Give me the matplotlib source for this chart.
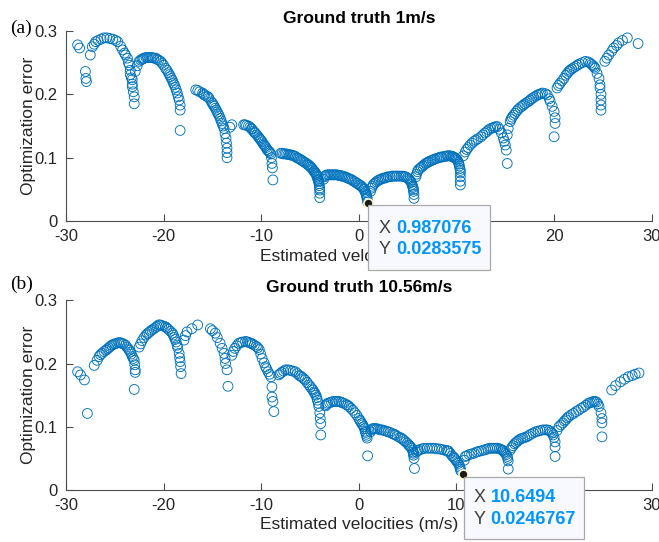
import matplotlib.pyplot as plt
from matplotlib.patches import Rectangle

plt.rcParams['font.family'] = ['Liberation Sans', 'DejaVu Sans']
plt.rcParams['axes.unicode_minus'] = False

# (velocity, error) pairs, arc by arc
# panel (a): ground truth 1 m/s
pts_a = [
    (-28.8, 0.278), (-28.6, 0.273), (-28.0, 0.236), (-27.9, 0.220), (-27.95, 0.225), (-27.5, 0.262),
    # arc 1
    (-27.3, 0.275), (-27.1, 0.279), (-26.95, 0.283), (-26.7, 0.285), (-26.4, 0.287), (-26.1, 0.289),
    (-25.8, 0.289), (-25.5, 0.288), (-25.2, 0.287), (-24.9, 0.285), (-24.7, 0.283), (-24.4, 0.276),
    (-24.2, 0.270), (-24.0, 0.265), (-23.9, 0.262), (-23.7, 0.257), (-23.6, 0.250), (-23.5, 0.246),
    (-23.4, 0.238), (-23.4, 0.231), (-23.3, 0.226), (-23.2, 0.223), (-23.2, 0.216), (-23.2, 0.212),
    (-23.1, 0.204), (-23.0, 0.196), (-23.0, 0.185),
    # arc 2
    (-22.9, 0.236), (-22.7, 0.245), (-22.5, 0.252), (-22.2, 0.255), (-22.0, 0.257), (-21.8, 0.258),
    (-21.5, 0.258), (-21.3, 0.258), (-21.0, 0.257), (-20.8, 0.257), (-20.5, 0.254), (-20.3, 0.252),
    (-20.0, 0.246), (-19.8, 0.241), (-19.5, 0.234), (-19.3, 0.228), (-19.1, 0.222), (-18.9, 0.215),
    (-18.7, 0.207), (-18.6, 0.202), (-18.5, 0.196), (-18.4, 0.191), (-18.3, 0.183), (-18.3, 0.175),
    (-18.3, 0.143),
    (-22.35, 0.254), (-22.1, 0.256), (-21.65, 0.258), (-21.15, 0.258), (-20.65, 0.255), (-20.15, 0.249),
    (-19.65, 0.238), (-19.4, 0.231), (-19.2, 0.225), (-19.0, 0.218), (-18.8, 0.211),
    # arc 3
    (-16.7, 0.207), (-16.3, 0.204), (-16.0, 0.202), (-15.8, 0.199), (-15.6, 0.197), (-15.35, 0.194),
    (-15.1, 0.188), (-14.9, 0.183), (-14.7, 0.178), (-14.5, 0.172), (-14.3, 0.166), (-14.2, 0.162),
    (-14.0, 0.154), (-13.8, 0.146), (-13.7, 0.138), (-13.6, 0.131), (-13.55, 0.123), (-13.5, 0.115),
    (-13.5, 0.108), (-13.5, 0.100), (-13.0, 0.152), (-13.2, 0.148),
    (-16.5, 0.206), (-15.9, 0.200), (-15.45, 0.196), (-15.0, 0.186), (-14.8, 0.181), (-14.6, 0.175),
    (-14.4, 0.169), (-14.1, 0.158), (-13.9, 0.150),
    # arc 4
    (-11.8, 0.152), (-11.5, 0.151), (-11.3, 0.150), (-11.0, 0.146), (-10.8, 0.142), (-10.6, 0.139),
    (-10.3, 0.133), (-10.1, 0.129), (-9.9, 0.125), (-9.7, 0.120), (-9.5, 0.116), (-9.4, 0.113),
    (-9.2, 0.110), (-9.0, 0.106), (-8.95, 0.100), (-8.9, 0.091), (-8.85, 0.084), (-8.8, 0.065),
    (-11.65, 0.152), (-11.15, 0.148), (-10.95, 0.145), (-10.7, 0.140), (-10.45, 0.136), (-10.2, 0.131),
    (-10.0, 0.127), (-9.8, 0.122), (-9.6, 0.118), (-9.3, 0.111), (-9.1, 0.108),
    # arc 5
    (-8.0, 0.107), (-7.85, 0.107), (-7.7, 0.106), (-7.55, 0.106), (-7.4, 0.106), (-7.25, 0.105),
    (-7.1, 0.105), (-6.95, 0.104), (-6.8, 0.104), (-6.65, 0.103), (-6.5, 0.102), (-6.35, 0.100),
    (-6.2, 0.099), (-6.05, 0.098), (-5.9, 0.096), (-5.75, 0.095), (-5.6, 0.093), (-5.45, 0.092),
    (-5.3, 0.090), (-5.2, 0.089), (-5.1, 0.088), (-5.0, 0.086), (-4.9, 0.085), (-4.8, 0.083),
    (-4.7, 0.081), (-4.6, 0.079), (-4.55, 0.078), (-4.45, 0.076), (-4.4, 0.075), (-4.35, 0.073),
    (-4.3, 0.071), (-4.25, 0.069), (-4.2, 0.066), (-4.15, 0.064), (-4.1, 0.062), (-4.07, 0.059),
    (-4.05, 0.056), (-4.02, 0.052), (-4.0, 0.049), (-4.0, 0.044), (-4.0, 0.037),
    # arc 6
    (-3.6, 0.066), (-3.5, 0.070), (-3.4, 0.072), (-3.25, 0.073), (-3.1, 0.073), (-2.95, 0.073),
    (-2.8, 0.073), (-2.65, 0.073), (-2.5, 0.073), (-2.35, 0.073), (-2.2, 0.073), (-2.05, 0.072),
    (-1.9, 0.072), (-1.75, 0.071), (-1.6, 0.071), (-1.45, 0.070), (-1.3, 0.069), (-1.15, 0.068),
    (-1.0, 0.067), (-0.85, 0.066), (-0.7, 0.065), (-0.55, 0.063), (-0.4, 0.062), (-0.25, 0.060),
    (-0.1, 0.059), (0.05, 0.057), (0.2, 0.056), (0.3, 0.054), (0.4, 0.053), (0.5, 0.051),
    (0.55, 0.050), (0.62, 0.047), (0.7, 0.045), (0.75, 0.042), (0.8, 0.040), (0.83, 0.037),
    (0.85, 0.035), (0.9, 0.030),
    # arc 7
    (1.2, 0.047), (1.3, 0.052), (1.4, 0.055), (1.5, 0.058), (1.65, 0.060), (1.8, 0.062),
    (1.95, 0.064), (2.1, 0.065), (2.25, 0.066), (2.4, 0.067), (2.55, 0.068), (2.7, 0.068),
    (2.85, 0.069), (3.0, 0.070), (3.2, 0.070), (3.4, 0.071), (3.55, 0.071), (3.75, 0.071),
    (3.9, 0.071), (4.1, 0.071), (4.3, 0.071), (4.5, 0.071), (4.65, 0.070), (4.8, 0.070),
    (4.95, 0.068), (5.1, 0.067), (5.2, 0.065), (5.3, 0.063), (5.38, 0.061), (5.45, 0.058),
    (5.5, 0.055), (5.55, 0.053), (5.6, 0.050), (5.6, 0.047), (5.65, 0.042), (5.65, 0.036),
    # arc 8
    (5.85, 0.070), (5.9, 0.074), (6.0, 0.078), (6.1, 0.081), (6.25, 0.083), (6.4, 0.085),
    (6.55, 0.087), (6.7, 0.089), (6.85, 0.091), (7.0, 0.092), (7.1, 0.093), (7.2, 0.094),
    (7.35, 0.095), (7.5, 0.096), (7.65, 0.097), (7.8, 0.098), (8.0, 0.099), (8.2, 0.100),
    (8.35, 0.101), (8.5, 0.101), (8.7, 0.102), (8.9, 0.102), (9.05, 0.103), (9.2, 0.103),
    (9.35, 0.103), (9.5, 0.102), (9.6, 0.102), (9.7, 0.101), (9.8, 0.100), (9.9, 0.099),
    (10.0, 0.098), (10.1, 0.096), (10.2, 0.093), (10.25, 0.090), (10.3, 0.087), (10.35, 0.083),
    (10.4, 0.080), (10.4, 0.076), (10.4, 0.070), (10.4, 0.063), (10.4, 0.057),
    # arc 9
    (10.7, 0.103), (10.9, 0.109), (11.2, 0.116), (11.6, 0.123), (12.0, 0.128), (12.5, 0.133),
    (12.9, 0.139), (13.3, 0.144), (13.7, 0.147), (14.0, 0.149), (14.2, 0.149), (14.4, 0.145),
    (14.6, 0.139), (14.8, 0.131), (14.9, 0.126), (15.0, 0.120), (15.1, 0.112), (15.2, 0.091),
    (11.05, 0.113), (11.4, 0.120), (11.8, 0.126), (12.2, 0.130), (12.7, 0.136), (13.1, 0.141),
    (13.5, 0.146), (13.85, 0.148),
    # arc 10
    (15.2, 0.136), (15.3, 0.146), (15.5, 0.157), (15.7, 0.164), (16.0, 0.170), (16.3, 0.176),
    (16.7, 0.181), (17.0, 0.185), (17.4, 0.189), (17.7, 0.193), (18.1, 0.197), (18.5, 0.200),
    (18.8, 0.202), (19.1, 0.201), (19.3, 0.199), (19.5, 0.193), (19.6, 0.189), (19.8, 0.181),
    (20.0, 0.173), (20.1, 0.163), (20.1, 0.154), (20.0, 0.133),
    (15.6, 0.161), (15.85, 0.167), (16.15, 0.173), (16.5, 0.179), (16.85, 0.183), (17.2, 0.187),
    (17.55, 0.191), (17.9, 0.195), (18.3, 0.199), (18.65, 0.201),
    # arc 11
    (20.3, 0.210), (20.6, 0.217), (21.0, 0.225), (21.2, 0.230), (21.5, 0.236), (21.8, 0.240),
    (22.2, 0.244), (22.6, 0.248), (23.2, 0.252), (23.5, 0.251), (23.7, 0.249), (24.0, 0.245),
    (24.2, 0.241), (24.4, 0.233), (24.6, 0.225), (24.7, 0.215), (24.7, 0.210), (24.8, 0.200),
    (24.8, 0.191), (24.8, 0.183), (24.8, 0.175),
    (20.45, 0.214), (20.8, 0.221), (21.35, 0.233), (21.65, 0.238), (22.0, 0.242), (22.4, 0.246),
    (22.9, 0.250), (23.85, 0.247), (24.1, 0.243),
    # arc 12
    (25.2, 0.252), (25.4, 0.257), (25.6, 0.262), (25.9, 0.268), (26.1, 0.273), (26.4, 0.277),
    (26.6, 0.281), (27.0, 0.285), (27.5, 0.289), (28.6, 0.280),
]

# panel (b): ground truth 10.56 m/s
pts_b = [
    (-28.8, 0.187), (-28.5, 0.182), (-28.1, 0.174), (-27.8, 0.121),
    # arc 1
    (-27.1, 0.197), (-26.8, 0.205), (-26.6, 0.211), (-26.3, 0.216), (-25.9, 0.221), (-25.6, 0.225),
    (-25.3, 0.229), (-25.0, 0.231), (-24.6, 0.233), (-24.3, 0.232), (-23.9, 0.229), (-23.6, 0.223),
    (-23.4, 0.218), (-23.2, 0.211), (-23.0, 0.205), (-22.95, 0.198), (-22.9, 0.190), (-22.9, 0.186),
    (-23.0, 0.159),
    (-26.45, 0.214), (-26.1, 0.219), (-25.75, 0.223), (-25.45, 0.227), (-25.15, 0.230), (-24.8, 0.232),
    (-24.45, 0.233), (-24.1, 0.231), (-23.75, 0.226), (-23.5, 0.221), (-23.3, 0.215), (-23.1, 0.208),
    # arc 2
    (-22.5, 0.226), (-22.2, 0.236), (-21.8, 0.245), (-21.5, 0.249), (-21.2, 0.253), (-20.8, 0.257),
    (-20.5, 0.261), (-20.2, 0.260), (-19.8, 0.258), (-19.5, 0.254), (-19.1, 0.248), (-18.9, 0.241),
    (-18.7, 0.234), (-18.55, 0.225), (-18.4, 0.216), (-18.35, 0.209), (-18.3, 0.203), (-18.25, 0.195),
    (-18.2, 0.184),
    (-22.35, 0.231), (-22.0, 0.241), (-21.65, 0.247), (-21.35, 0.251), (-21.0, 0.255), (-20.65, 0.259),
    (-20.35, 0.261), (-20.0, 0.259), (-19.65, 0.256), (-19.3, 0.251), (-19.0, 0.245), (-18.8, 0.238),
    (-18.6, 0.229),
    # arc 3
    (-17.9, 0.237), (-17.75, 0.244), (-17.6, 0.250), (-17.1, 0.255), (-16.5, 0.261),
    # arc 4
    (-15.2, 0.255), (-15.0, 0.252), (-14.7, 0.248), (-14.5, 0.241), (-14.2, 0.232), (-14.0, 0.224),
    (-13.8, 0.216), (-13.7, 0.208), (-13.65, 0.200), (-13.5, 0.190), (-13.4, 0.164),
    # arc 5
    (-13.0, 0.213), (-12.7, 0.224), (-12.3, 0.232), (-11.9, 0.234), (-11.6, 0.235), (-11.2, 0.233),
    (-10.9, 0.231), (-10.5, 0.227), (-10.2, 0.222), (-9.9, 0.208), (-9.55, 0.195), (-9.3, 0.187),
    (-9.0, 0.179), (-8.9, 0.163), (-8.9, 0.147), (-8.8, 0.140), (-8.7, 0.124),
    (-12.85, 0.219), (-12.5, 0.228), (-12.1, 0.233), (-11.4, 0.234), (-11.05, 0.232), (-10.7, 0.229),
    (-10.35, 0.225), (-10.05, 0.215), (-9.7, 0.201), (-9.45, 0.192), (-9.15, 0.183),
    # arc 6
    (-8.2, 0.182), (-7.9, 0.186), (-7.5, 0.190), (-7.0, 0.189), (-6.5, 0.187), (-6.1, 0.181),
    (-5.8, 0.178), (-5.5, 0.174), (-5.1, 0.166), (-4.8, 0.160), (-4.6, 0.155), (-4.4, 0.150),
    (-4.25, 0.142), (-4.1, 0.132), (-4.0, 0.122), (-3.95, 0.113), (-3.9, 0.105), (-3.9, 0.087),
    (-8.05, 0.184), (-7.7, 0.188), (-7.25, 0.190), (-6.75, 0.188), (-6.3, 0.184), (-5.95, 0.180),
    (-5.65, 0.176), (-5.3, 0.170), (-4.95, 0.163), (-4.7, 0.158), (-4.5, 0.153), (-4.3, 0.146),
    (-4.15, 0.137),
    # arc 7
    (-3.4, 0.133), (-3.2, 0.137), (-2.8, 0.139), (-2.4, 0.140), (-2.05, 0.140), (-1.7, 0.138),
    (-1.3, 0.135), (-1.0, 0.132), (-0.6, 0.126), (-0.2, 0.118), (0.1, 0.110), (0.3, 0.105),
    (0.5, 0.100), (0.65, 0.093), (0.75, 0.088), (0.85, 0.082), (0.9, 0.054),
    (-3.3, 0.135), (-3.0, 0.138), (-2.6, 0.140), (-2.25, 0.140), (-1.85, 0.139), (-1.5, 0.137),
    (-1.15, 0.134), (-0.8, 0.129), (-0.4, 0.122), (0.0, 0.113), (0.2, 0.108), (0.4, 0.103),
    (0.58, 0.097), (0.7, 0.091), (0.8, 0.085),
    # arc 8
    (1.2, 0.092), (1.4, 0.097), (1.7, 0.097), (2.0, 0.096), (2.4, 0.095), (2.8, 0.093),
    (3.2, 0.091), (3.75, 0.087), (4.2, 0.083), (4.5, 0.080), (4.8, 0.076), (5.1, 0.071),
    (5.3, 0.068), (5.5, 0.063), (5.6, 0.058), (5.7, 0.034),
    (1.3, 0.095), (1.55, 0.097), (1.85, 0.097), (2.2, 0.095), (2.6, 0.094), (3.0, 0.092),
    (3.45, 0.089), (3.6, 0.088), (3.95, 0.085), (4.35, 0.082), (4.65, 0.078), (4.95, 0.074),
    (5.2, 0.070), (5.4, 0.066), (5.55, 0.060), (5.6, 0.055), (5.65, 0.050),
    # arc 9
    (5.9, 0.060), (6.1, 0.063), (6.5, 0.065), (7.0, 0.066), (7.5, 0.066), (8.0, 0.065),
    (8.5, 0.064), (9.0, 0.062), (9.2, 0.061), (9.55, 0.054), (9.8, 0.050), (10.0, 0.046),
    (10.2, 0.042), (10.35, 0.036), (10.45, 0.030),
    (6.0, 0.062), (6.3, 0.064), (6.7, 0.066), (7.25, 0.066), (7.75, 0.066), (8.25, 0.065),
    (8.75, 0.063), (9.1, 0.062), (9.35, 0.058), (9.7, 0.052), (9.9, 0.048), (10.1, 0.044),
    (10.3, 0.039), (10.4, 0.033),
    # arc 10
    (10.8, 0.047), (10.9, 0.053), (11.3, 0.056), (11.8, 0.058), (12.3, 0.061), (12.8, 0.063),
    (13.2, 0.065), (13.6, 0.066), (14.0, 0.066), (14.4, 0.065), (14.7, 0.063), (14.9, 0.060),
    (15.1, 0.056), (15.2, 0.053), (15.3, 0.046), (15.3, 0.033),
    (11.05, 0.054), (11.55, 0.057), (12.05, 0.060), (12.55, 0.062), (13.0, 0.064), (13.4, 0.066),
    (13.8, 0.066), (14.2, 0.066), (14.55, 0.064), (14.8, 0.062), (15.0, 0.058), (15.25, 0.050),
    # arc 11
    (15.5, 0.063), (15.8, 0.070), (16.1, 0.075), (16.4, 0.079), (16.8, 0.082), (17.2, 0.084),
    (17.6, 0.088), (18.1, 0.092), (18.6, 0.094), (19.1, 0.095), (19.5, 0.094), (19.8, 0.090),
    (20.0, 0.083), (20.1, 0.076), (20.1, 0.068), (20.1, 0.053),
    (15.65, 0.067), (15.95, 0.073), (16.25, 0.077), (16.6, 0.081), (17.0, 0.083), (17.4, 0.086),
    (17.85, 0.090), (18.35, 0.093), (18.85, 0.095), (19.3, 0.095), (19.65, 0.092), (19.9, 0.087),
    # arc 12
    (20.3, 0.094), (20.5, 0.100), (20.9, 0.106), (21.2, 0.111), (21.5, 0.116), (22.0, 0.121),
    (22.5, 0.126), (23.0, 0.131), (23.5, 0.137), (23.9, 0.139), (24.2, 0.140), (24.5, 0.136),
    (24.6, 0.132), (24.8, 0.122), (24.9, 0.113), (24.9, 0.106), (24.9, 0.084),
    (20.7, 0.103), (21.05, 0.109), (21.35, 0.114), (21.75, 0.119), (22.25, 0.124), (22.75, 0.129),
    (23.25, 0.134), (23.7, 0.138), (24.05, 0.140), (24.35, 0.139),
    # arc 13
    (25.9, 0.158), (26.3, 0.165), (26.8, 0.171), (27.2, 0.175), (27.6, 0.179), (28.0, 0.181),
    (28.3, 0.183), (28.7, 0.185),
]

tip_a = (0.987076, 0.0283575)
tip_b = (10.6494, 0.0246767)
titles = ['Ground truth 1m/s', 'Ground truth 10.56m/s']
tags = ['(a)', '(b)']
xticks = [-30, -20, -10, 0, 10, 20, 30]
yticks = [0, 0.1, 0.2, 0.3]

blue = '#0072BD'
txt = '#262626'

fig = plt.figure(figsize=(6.59, 5.42), dpi=100)
ax_a = fig.add_axes([0.100, 0.592, 0.889, 0.351])
ax_b = fig.add_axes([0.100, 0.096, 0.889, 0.350])


def draw_tip(ax, tip, box, xlab, xval, ys, xs):
    # box = (left, bottom, width, height) in data units
    ax.plot(tip[0], tip[1], 'o', ms=6.5, mfc='#1a1a1a', mec='#fff6c8', mew=1.2, zorder=6)
    r = Rectangle((box[0], box[1]), box[2], box[3], facecolor='#f8f9ff', edgecolor='#a9a9a9',
                  lw=0.9, clip_on=False, zorder=10)
    ax.add_patch(r)
    ax.text(xlab, ys[0], 'X', fontsize=13, color='#404040', va='center', clip_on=False, zorder=11)
    ax.text(xval, ys[0], xs, fontsize=13, fontweight='bold', color='#0096ff',
            va='center', clip_on=False, zorder=11)
    ax.text(xlab, ys[1], 'Y', fontsize=13, color='#404040', va='center', clip_on=False, zorder=11)
    ax.text(xval, ys[1], '%.7g' % tip[1], fontsize=13, fontweight='bold', color='#0096ff',
            va='center', clip_on=False, zorder=11)


for ax, pts, title, tag, ty in [(ax_a, pts_a, titles[0], tags[0], 1.016),
                                (ax_b, pts_b, titles[1], tags[1], 1.082)]:
    vel = [p[0] for p in pts]
    err = [p[1] for p in pts]
    ax.scatter(vel, err, s=50, facecolors='none', edgecolors=blue, linewidths=0.65, zorder=3)
    ax.set_xlim(-30, 30)
    ax.set_ylim(0, 0.3)
    ax.set_xticks(xticks)
    ax.set_yticks(yticks)
    ax.set_yticklabels(['0', '0.1', '0.2', '0.3'])
    for s in ['top', 'right']:
        ax.spines[s].set_visible(False)
    for s in ['left', 'bottom']:
        ax.spines[s].set_color('#4d4d4d')
        ax.spines[s].set_linewidth(0.8)
    ax.tick_params(direction='in', length=5, width=0.8, color='#4d4d4d', labelsize=12,
                   labelcolor=txt, pad=6)
    ax.set_title(title, fontsize=12.5, fontweight='bold', pad=6)
    ax.set_xlabel('Estimated velocities (m/s)', fontsize=12.5, color=txt, labelpad=3)
    ax.set_ylabel('Optimization error', fontsize=12.5, color=txt, labelpad=-1)
    ax.text(-0.096, ty, tag, transform=ax.transAxes, fontsize=14,
            family=['Liberation Serif', 'DejaVu Serif'], va='center', ha='left')

draw_tip(ax_a, tip_a, (0.92, -0.077, 12.5, 0.102), 2.0, 3.8, (-0.011, -0.045), '%.6f' % tip_a[0])
draw_tip(ax_b, tip_b, (10.75, -0.077, 12.3, 0.0975), 11.8, 13.5, (-0.012, -0.046), '%g' % tip_b[0])

fig.savefig('out.png', dpi=100)
